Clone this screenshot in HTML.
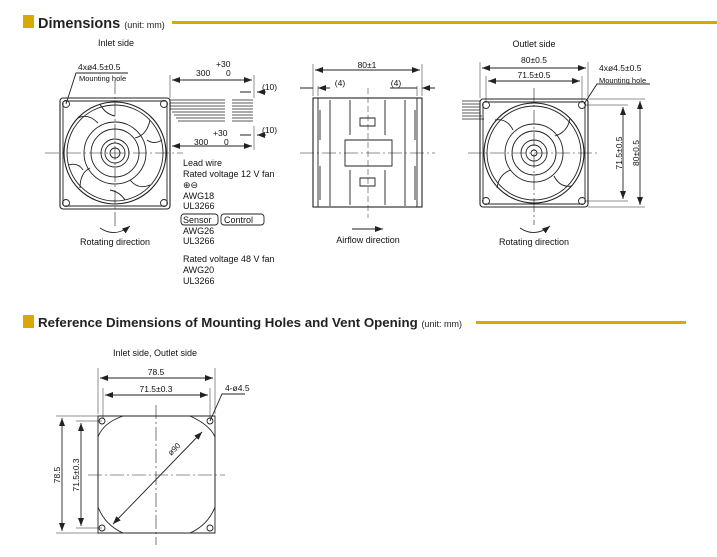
<!DOCTYPE html>
<html><head><meta charset="utf-8"><style>
html,body{margin:0;padding:0;background:#fff;}
svg{display:block;font-family:"Liberation Sans",sans-serif;}
</style></head><body>
<svg width="717" height="557" viewBox="0 0 717 557" xmlns="http://www.w3.org/2000/svg">
<defs>
<marker id="a" markerWidth="8" markerHeight="6" refX="8" refY="3" orient="auto" markerUnits="userSpaceOnUse"><path d="M0,0 L8,3 L0,6 z" fill="#222"/></marker>
<marker id="b" markerWidth="8" markerHeight="6" refX="0" refY="3" orient="auto" markerUnits="userSpaceOnUse"><path d="M8,0 L0,3 L8,6 z" fill="#222"/></marker>
</defs>
<rect x="23" y="15" width="11" height="13" fill="#d8a900"/>
<text x="38" y="28" font-size="14.5" font-weight="bold" fill="#222">Dimensions <tspan font-size="9" font-weight="normal">(unit: mm)</tspan></text>
<rect x="172" y="21" width="545" height="3" fill="#d8a900"/>
<g font-size="9" fill="#111" stroke="none">
<text x="116" y="46" text-anchor="middle">Inlet side</text>
<text x="534" y="47" text-anchor="middle">Outlet side</text>
<text x="78" y="70" font-size="8.5">4xø4.5±0.5</text>
<text x="79" y="81" font-size="7.5">Mounting hole</text>
<text x="216" y="67" font-size="8.5">+30</text>
<text x="196" y="76" font-size="8.5">300</text><text x="226" y="76" font-size="8.5">0</text>
<text x="262" y="90" font-size="8.5">(10)</text>
<text x="213" y="136" font-size="8.5">+30</text>
<text x="194" y="145" font-size="8.5">300</text><text x="224" y="145" font-size="8.5">0</text>
<text x="262" y="133" font-size="8.5">(10)</text>
<text x="183" y="166">Lead wire</text>
<text x="183" y="177">Rated voltage 12 V fan</text>
<text x="183" y="188">⊕⊖</text>
<text x="183" y="199">AWG18</text>
<text x="183" y="209">UL3266</text>
<text x="183" y="223">Sensor</text>
<text x="224" y="223">Control</text>
<text x="183" y="234">AWG26</text>
<text x="183" y="244">UL3266</text>
<text x="183" y="262">Rated voltage 48 V fan</text>
<text x="183" y="273">AWG20</text>
<text x="183" y="284">UL3266</text>
<text x="115" y="245" text-anchor="middle">Rotating direction</text>
<text x="368" y="243" text-anchor="middle">Airflow direction</text>
<text x="534" y="245" text-anchor="middle">Rotating direction</text>
<text x="367" y="68" text-anchor="middle" font-size="8.5">80±1</text>
<text x="340" y="86" text-anchor="middle" font-size="8.5">(4)</text>
<text x="396" y="86" text-anchor="middle" font-size="8.5">(4)</text>
<text x="534" y="63" text-anchor="middle" font-size="8.5">80±0.5</text>
<text x="534" y="78" text-anchor="middle" font-size="8.5">71.5±0.5</text>
<text x="599" y="71" font-size="8.5">4xø4.5±0.5</text>
<text x="599" y="83" font-size="7.5">Mounting hole</text>
<text transform="translate(622,153) rotate(-90)" text-anchor="middle" font-size="8.5">71.5±0.5</text>
<text transform="translate(639,153) rotate(-90)" text-anchor="middle" font-size="8.5">80±0.5</text>
</g>
<g fill="none" stroke="#222" stroke-width="0.9">
<rect x="181" y="214" width="37" height="11" rx="3"/>
<rect x="221" y="214" width="43" height="11" rx="3"/>
<rect x="60" y="98" width="110" height="111" rx="3" stroke-width="1.1"/>
<rect x="63" y="101" width="104" height="105" rx="2"/>
<circle cx="115" cy="153" r="51" stroke-width="1.1"/><circle cx="115" cy="153" r="48"/>
<circle cx="115" cy="153" r="31"/><circle cx="115" cy="153" r="24"/>
<circle cx="115" cy="153" r="14"/><circle cx="115" cy="153" r="10"/><circle cx="115" cy="153" r="5"/>
<path d="M78,118 q10,-5 20,5 M150,120 q-3,15 -15,18 M150,185 q-12,5 -20,-5 M80,188 q0,-15 10,-20 M100,104 q5,10 15,12 M162,140 q-8,5 -15,0 M125,200 q-5,-8 -15,-10 M68,165 q10,-3 15,5"/>
<circle cx="66" cy="104" r="3.5"/><circle cx="164" cy="104" r="3.5"/><circle cx="66" cy="203" r="3.5"/><circle cx="164" cy="203" r="3.5"/>
<path d="M45,153 H183 M115,80 V226" stroke-dasharray="14,3,2,3" stroke-width="0.6"/>
<path d="M66,104 L76,73 H128"/>
<path d="M170,100 H225 M170,103 H225 M170,106 H225 M170,109 H225 M172,112 H225 M174,115 H225 M176,118 H225 M178,121 H225 M232,100 H253 M232,103 H253 M232,106 H253 M232,109 H253 M232,112 H253 M232,115 H253 M232,118 H253 M232,121 H253" stroke-width="0.7"/>
<path d="M170,75 V98 M254,75 V98 M254,126 V150 M170,126 V150" stroke-width="0.5"/>
<path d="M172,80 H252" marker-start="url(#b)" marker-end="url(#a)"/>
<path d="M172,146 H252" marker-start="url(#b)" marker-end="url(#a)"/>
<path d="M240,92 H251 M266,92 H257" marker-end="url(#a)"/>
<path d="M240,135 H251 M266,135 H257" marker-end="url(#a)"/>
<path d="M100,228 q15,10 30,-2" marker-end="url(#a)"/>
<rect x="313" y="98" width="109" height="109" stroke-width="1.1"/>
<path d="M318,98 V207 M417,98 V207 M330,100 V206 M405,100 V206 M345,140 H392 V166 H345 Z M320,110 V140 M320,166 V200 M415,110 V140 M415,166 V200 M350,100 V135 M385,100 V135 M350,170 V205 M385,170 V205 M360,118 h15 v8 h-15z M360,178 h15 v8 h-15z"/>
<path d="M300,153 H435" stroke-dasharray="14,3,2,3" stroke-width="0.6"/>
<path d="M368,88 V218" stroke-dasharray="6,3" stroke-width="0.5"/>
<path d="M313,64 V96 M422,64 V96 M318,86 V96 M417,86 V96" stroke-width="0.5"/>
<path d="M315,70 H420" marker-start="url(#b)" marker-end="url(#a)"/>
<path d="M300,88 H313 M330,88 H318" marker-end="url(#a)"/>
<path d="M390,88 H417 M435,88 H422" marker-end="url(#a)"/>
<path d="M352,229 H383" marker-end="url(#a)"/>
<rect x="480" y="99" width="108" height="108" rx="3" stroke-width="1.1"/>
<rect x="483" y="102" width="102" height="102" rx="2"/>
<circle cx="534" cy="153" r="50" stroke-width="1.1"/><circle cx="534" cy="153" r="47"/>
<circle cx="534" cy="153" r="29"/><circle cx="534" cy="153" r="22"/>
<circle cx="534" cy="153" r="13"/><circle cx="534" cy="153" r="8"/><circle cx="534" cy="153" r="3"/>
<path d="M495,120 q12,-2 18,10 M570,118 q-2,14 -15,18 M572,186 q-12,2 -18,-10 M497,188 q2,-14 14,-18"/>
<circle cx="486" cy="105" r="3.5"/><circle cx="582" cy="105" r="3.5"/><circle cx="486" cy="201" r="3.5"/><circle cx="582" cy="201" r="3.5"/>
<path d="M462,101 H480 M462,104 H480 M462,107 H480 M462,110 H480 M462,113 H480 M462,116 H482 M462,119 H484" stroke-width="0.7"/>
<path d="M468,153 H600 M534,88 V225" stroke-dasharray="14,3,2,3" stroke-width="0.6"/>
<path d="M480,62 V98 M588,62 V98 M486,76 V101 M582,76 V101" stroke-width="0.5"/>
<path d="M482,68 H586" marker-start="url(#b)" marker-end="url(#a)"/>
<path d="M488,81 H580" marker-start="url(#b)" marker-end="url(#a)"/>
<path d="M584,104 L597,84 H650"/>
<path d="M588,99 H645 M585,105 H628 M588,207 H645 M585,201 H628" stroke-width="0.5"/>
<path d="M623,107 V199" marker-start="url(#b)" marker-end="url(#a)"/>
<path d="M640,101 V205" marker-start="url(#b)" marker-end="url(#a)"/>
<path d="M520,228 q15,10 30,-2" marker-end="url(#a)"/>
</g>
<rect x="23" y="315" width="11" height="13" fill="#d8a900"/>
<text x="38" y="327" font-size="13.3" font-weight="bold" fill="#222">Reference Dimensions of Mounting Holes and Vent Opening <tspan font-size="9" font-weight="normal">(unit: mm)</tspan></text>
<rect x="476" y="321" width="210" height="3" fill="#d8a900"/>
<g font-size="9" fill="#111">
<text x="155" y="356" text-anchor="middle">Inlet side, Outlet side</text>
<text x="156" y="375" text-anchor="middle" font-size="8.5">78.5</text>
<text x="156" y="392" text-anchor="middle" font-size="8.5">71.5±0.3</text>
<text x="225" y="391" font-size="8.5">4-ø4.5</text>
<text transform="translate(60,475) rotate(-90)" text-anchor="middle" font-size="8.5">78.5</text>
<text transform="translate(79,475) rotate(-90)" text-anchor="middle" font-size="8.5">71.5±0.3</text>
<text transform="translate(176,451) rotate(-45)" text-anchor="middle" font-size="8">ø90</text>
</g>
<g fill="none" stroke="#222" stroke-width="0.9">
<path d="M98,416 H215 V533 H98 Z"/>
<path d="M123,416 H190 Q210,425 215,437 V507 Q208,525 190,533 H123 Q105,525 98,507 V437 Q103,423 123,416"/>
<circle cx="102" cy="421" r="3"/><circle cx="210" cy="421" r="3"/><circle cx="102" cy="528" r="3"/><circle cx="210" cy="528" r="3"/>
<path d="M88,475 H225 M156,405 V545" stroke-dasharray="14,3,2,3" stroke-width="0.6"/>
<path d="M98,368 V414 M215,368 V414 M103,388 V419 M210,388 V419" stroke-width="0.5"/>
<path d="M100,378 H213" marker-start="url(#b)" marker-end="url(#a)"/>
<path d="M105,395 H208" marker-start="url(#b)" marker-end="url(#a)"/>
<path d="M210,421 L222,394 H245"/>
<path d="M56,416 H98 M76,421 H102 M56,533 H98 M76,528 H102" stroke-width="0.5"/>
<path d="M62,418 V531" marker-start="url(#b)" marker-end="url(#a)"/>
<path d="M81,423 V526" marker-start="url(#b)" marker-end="url(#a)"/>
<path d="M113,524 L202,432" marker-start="url(#b)" marker-end="url(#a)"/>
</g>
</svg>
</body></html>
